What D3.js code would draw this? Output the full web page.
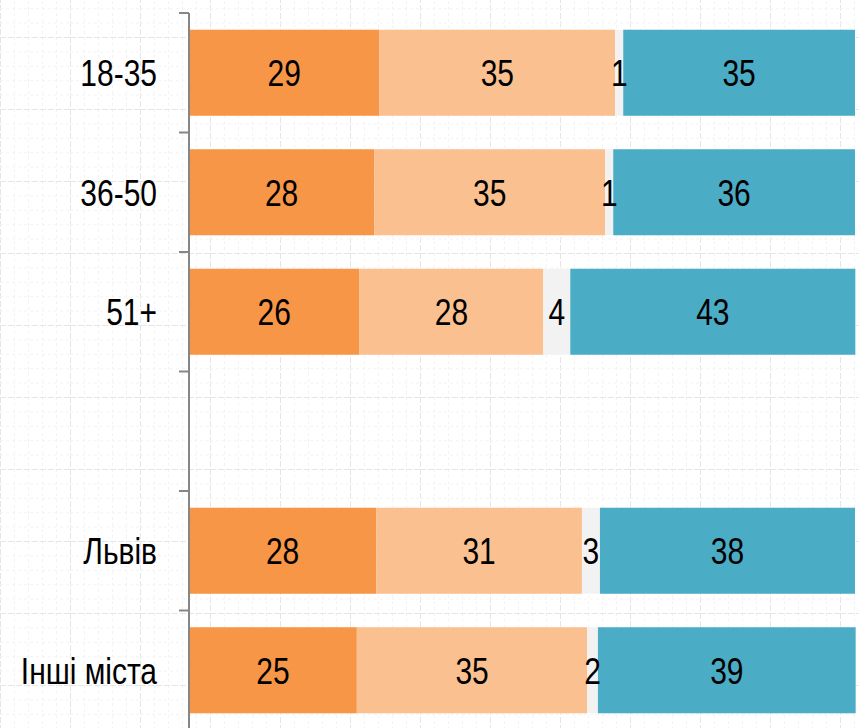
<!DOCTYPE html>
<html><head><meta charset="utf-8">
<script src="https://cdn.jsdelivr.net/npm/d3@7"></script>
<style>
html,body{margin:0;padding:0;background:#fff;}
svg{display:block;}
</style></head>
<body>
<svg id="chart" width="859" height="728"></svg>
<script>
// ---- data ----
const categories = ["18-35", "36-50", "51+", "", "Львів", "Інші міста"];
const seriesNames = ["s1", "s2", "s3", "s4"];
const s1 = [28.6, 27.8, 25.6, null, 28.1, 25.2];
const s2 = [35.4, 34.7, 27.6, null, 30.9, 34.6];
const s3 = [1.2, 1.2, 4.05, null, 2.7, 1.6];
const s4 = [34.8, 36.3, 42.8, null, 38.3, 38.7];
const seriesValues = [s1, s2, s3, s4];
const colors = ["#F79646", "#FAC090", "#F2F2F2", "#4BACC6"];

// ---- layout ----
const W = 859, H = 728;
const x0 = 189, x1 = 855, yTop = 13, yBot = 730;
const svg = d3.select("#chart");

// background faint grid
const defs = svg.append("defs");
const pat = defs.append("pattern").attr("id","grid").attr("width",70).attr("height",72)
  .attr("patternUnits","userSpaceOnUse").attr("x",0).attr("y",37);
for (let i = 0; i < 5; i++) {
  pat.append("line").attr("x1",i*14+0.5).attr("x2",i*14+0.5).attr("y1",0).attr("y2",72)
    .attr("stroke", i===0 ? "#e6e6e6" : "#f3f3f3").attr("stroke-width",1)
    .attr("stroke-dasharray", i===0 ? "6,2" : "3,3");
}
for (let j = 0; j < 5; j++) {
  const yy = j*14.4+0.5;
  pat.append("line").attr("y1",yy).attr("y2",yy).attr("x1",0).attr("x2",70)
    .attr("stroke", j===0 ? "#e6e6e6" : "#f3f3f3").attr("stroke-width",1)
    .attr("stroke-dasharray", j===0 ? "6,2" : "3,3");
}
svg.append("rect").attr("width",W).attr("height",H).attr("fill","#fff");
svg.append("rect").attr("width",W).attr("height",H).attr("fill","url(#grid)");

const x = d3.scaleLinear().domain([0, 100]).range([x0, x1]);
const y = d3.scaleBand().domain(categories).range([yTop, yBot]).paddingInner(0.28).paddingOuter(0.14);

const rows = categories.map((c, i) => {
  let acc = 0;
  return seriesValues.map((arr, k) => {
    const v = arr[i];
    if (v == null) return null;
    const seg = {cat: c, k, v, start: acc, end: acc + v};
    acc += v;
    return seg;
  }).filter(d => d);
});
const segs = rows.flat();

const fontFam = "'Liberation Sans',Arial,sans-serif";
const fs = 37, sx = 0.81;

svg.append("g").selectAll("rect").data(segs).join("rect")
  .attr("x", d => x(d.start))
  .attr("y", d => y(d.cat))
  .attr("width", d => x(d.end) - x(d.start))
  .attr("height", y.bandwidth())
  .attr("fill", d => colors[d.k]);

svg.append("g").selectAll("text").data(segs).join("text")
  .attr("transform", d => `translate(${(x(d.start) + x(d.end)) / 2},${y(d.cat) + y.bandwidth() / 2}) scale(${sx},1)`)
  .attr("dy", "0.36em")
  .attr("text-anchor", "middle")
  .attr("font-family", fontFam)
  .attr("font-size", fs)
  .attr("fill", "#000")
  .text(d => d3.format(".0f")(d.v));

// axis
const ax = svg.append("g");
ax.append("line").attr("x1", x0).attr("x2", x0).attr("y1", yTop).attr("y2", yBot)
  .attr("stroke", "#868686").attr("stroke-width", 2);
const step = y.step();
const tickYs = categories.map(c => y(c) - step * y.paddingInner() / 2).concat([yBot]);
ax.selectAll("line.tick").data(tickYs).join("line").attr("class","tick")
  .attr("x1", x0 - 10).attr("x2", x0).attr("y1", d => d).attr("y2", d => d)
  .attr("stroke", "#868686").attr("stroke-width", 2);
ax.selectAll("text").data(categories).join("text")
  .attr("transform", d => `translate(157,${y(d) + y.bandwidth() / 2}) scale(${sx},1)`)
  .attr("dy", "0.36em")
  .attr("text-anchor", "end")
  .attr("font-family", fontFam)
  .attr("font-size", fs)
  .attr("fill", "#000")
  .text(d => d);
</script>
</body></html>
